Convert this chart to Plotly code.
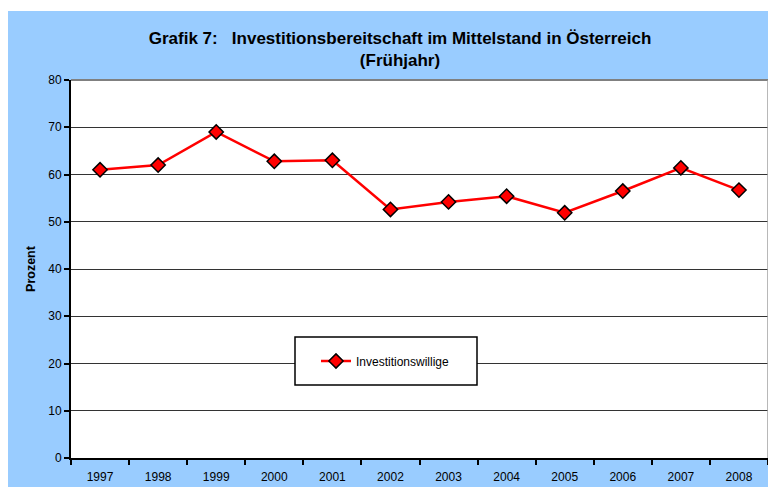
import plotly.graph_objects as go

years = ["1997", "1998", "1999", "2000", "2001", "2002", "2003", "2004", "2005", "2006", "2007", "2008"]
investitionswillige = [61.0, 62.0, 69.0, 62.8, 63.0, 52.6, 54.2, 55.4, 51.9, 56.5, 61.4, 56.7]
series_name = "Investitionswillige"
y_ticks = [0, 10, 20, 30, 40, 50, 60, 70, 80]

# page body has an 8px default margin, so the figure is sized to fit the window
OFF = 8
W, H = 776 - OFF, 487 - OFF
L, R, T, B = 71 - OFF, 776 - 768, 80 - OFF, 487 - 458
pw, ph = W - L - R, H - T - B

def sx(px):  # screen px -> paper x
    return (px - OFF - L) / pw

def sy(py):  # screen px -> paper y
    return (H - B - (py - OFF)) / ph

fig = go.Figure()
fig.add_trace(go.Scatter(
    x=years, y=investitionswillige, name=series_name,
    mode="lines+markers",
    line=dict(color="#FF0000", width=2.5),
    marker=dict(symbol="diamond", size=11, color="#FF0000",
                line=dict(color="#000000", width=1.5)),
))

shapes = [
    # white strip above the blue chart area
    dict(type="rect", xref="paper", yref="paper", layer="below",
         x0=sx(0), x1=sx(W + 20), y0=sy(11), y1=sy(-5),
         fillcolor="white", line=dict(width=0)),
    # top and right plot border (gray)
    dict(type="line", xref="paper", yref="paper", layer="above",
         x0=0, x1=1, y0=1, y1=1, line=dict(color="#808080", width=2)),
    dict(type="line", xref="paper", yref="paper", layer="above",
         x0=1, x1=1, y0=0, y1=1, line=dict(color="#A0A0A0", width=1.5)),
    # legend box
    dict(type="rect", xref="paper", yref="paper", layer="above",
         x0=sx(295), x1=sx(477), y0=sy(385), y1=sy(337),
         fillcolor="white", line=dict(color="#000000", width=1.5)),
]

fig.update_layout(
    width=W, height=H,
    margin=dict(l=L, r=R, t=T, b=B, autoexpand=False),
    paper_bgcolor="#99CCFF",
    plot_bgcolor="white",
    font=dict(family="Liberation Sans, Arial, sans-serif", color="#000000", size=12),
    title=dict(
        text="<b>Grafik 7:\u00a0\u00a0\u00a0Investitionsbereitschaft im Mittelstand in Österreich</b><br><b>(Frühjahr)</b>",
        x=(400 - OFF) / W, xanchor="center", xref="container",
        y=1 - (44 - OFF) / H, yanchor="middle", yref="container",
        font=dict(size=17, family="Liberation Sans, Arial, sans-serif", color="#000000"),
    ),
    showlegend=True,
    legend=dict(
        x=sx(316), y=sy(361), xanchor="left", yanchor="middle",
        bgcolor="rgba(0,0,0,0)", borderwidth=0,
        font=dict(size=12, family="Liberation Sans, Arial, sans-serif"),
        itemwidth=30,
    ),
    shapes=shapes,
    xaxis=dict(
        type="category", range=[-0.5, 11.5], automargin=False,
        showline=True, linecolor="#000000", linewidth=2,
        ticks="outside", tickson="boundaries", ticklen=5, tickcolor="#000000", tickwidth=1.5,
        showgrid=False, tickfont=dict(size=12), fixedrange=True,
        ticklabelstandoff=7,
    ),
    yaxis=dict(
        range=[0, 80], tickvals=y_ticks, automargin=False,
        showline=True, linecolor="#000000", linewidth=2,
        ticks="outside", ticklen=5, tickcolor="#000000", tickwidth=1.5,
        showgrid=True, gridcolor="#333333", gridwidth=1,
        zeroline=False, tickfont=dict(size=12),
        title=dict(text="<b>Prozent</b>", font=dict(size=12.5), standoff=10),
    ),
)

fig.write_html("out.html")
